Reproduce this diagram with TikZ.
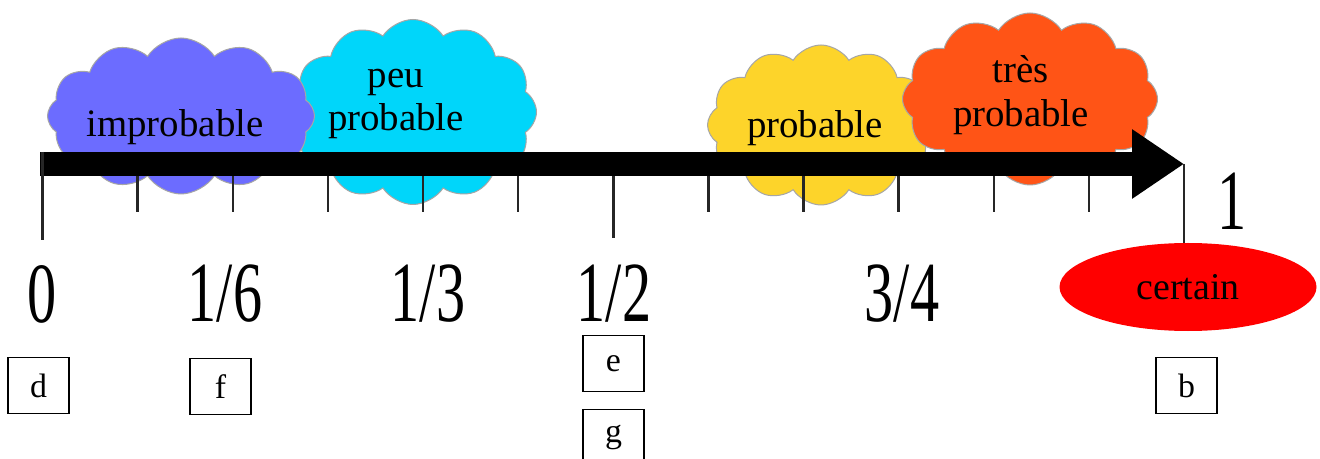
\documentclass[tikz,border=0pt]{standalone}
\usepackage{fontspec}
\setmainfont{Liberation Serif}
\usepackage{graphicx}
\usetikzlibrary{arrows.meta,shapes.symbols,shapes.geometric}

\definecolor{cloudpurple}{RGB}{108,108,255}
\definecolor{cloudcyan}{RGB}{0,214,250}
\definecolor{cloudyellow}{RGB}{253,212,42}
\definecolor{cloudorange}{RGB}{255,84,22}

\newcommand{\narrow}[1]{\scalebox{0.68}[1]{#1}}

\tikzset{
	cloudy/.style={cloud, cloud puffs=12, cloud puff arc=115, draw=gray!70, line width=1bp, inner sep=0pt},
	cloudtxt/.style={font=\fontsize{39}{44}\selectfont, align=center, inner sep=0pt},
	tickline/.style={line width=2.5bp, black!85},
	numlbl/.style={font=\fontsize{86}{86}\selectfont, inner sep=0pt},
	lettbox/.style={draw, line width=1.2bp, minimum width=61bp, minimum height=56bp, inner sep=0pt, font=\fontsize{34}{36}\selectfont},
}

\begin{document}
\begin{tikzpicture}[x=1bp,y=-1bp]
		\useasboundingbox[fill=white] (0,0) rectangle (1320,459);
		% clouds behind the axis
		\node[cloudy, fill=cloudcyan, minimum width=247bp, minimum height=185bp] (cpeu) at (413,112) {};
		\node[cloudy, fill=cloudpurple, minimum width=267bp, minimum height=156bp] (cimprob) at (181,116) {};
		\node[cloudy, fill=cloudyellow, minimum width=227bp, minimum height=160bp] (cprob) at (821,125) {};
		\node[cloudy, fill=cloudorange, minimum width=255bp, minimum height=172bp] (ctres) at (1030,99) {};
		\node[cloudtxt] (timprob) at (175,127) {improbable};
		\node[cloudtxt] (tpeu) at (396,104) {peu\\probable};
		\node[cloudtxt] (tprob) at (815,128) {probable};
		\node[cloudtxt] (ttres) at (1021,95) {très\\probable};
		% axis
		\coordinate (zero) at (40,164);
		\coordinate (one) at (1184,164);
		\draw[line width=24bp, -{Triangle[length=52bp,width=66bp]}] (zero) -- (one);
		\draw[tickline] (42.5,152) -- ++(0,88);
		\foreach \k in {1,...,11}{
			\pgfmathsetmacro{\len}{\k==6 ? 62 : 36}
			\draw[tickline] (42.5+95.125*\k,176) -- ++(0,\len);
			}
		\node[ellipse, fill=red, minimum width=257bp, minimum height=88bp, font=\fontsize{38}{40}\selectfont] (certain) at (1188,287) {certain};
		\draw[tickline] (one) -- (one |- certain.north);
		% values
		\node[numlbl] (n0) at (42,294) {\narrow{0}};
		\node[numlbl] (n16) at (225,294) {\narrow{1/6}};
		\node[numlbl] (n13) at (428,294) {\narrow{1/3}};
		\node[numlbl] (n12) at (614,294) {\narrow{1/2}};
		\node[numlbl] (n34) at (902,294) {\narrow{3/4}};
		\node[numlbl] (n1) at (1232,201) {\narrow{1}};
		% answer boxes
		\node[lettbox] (bd) at (38.5,385.5) {d};
		\node[lettbox] (bf) at (220.5,386.5) {f};
		\node[lettbox] (be) at (613.5,363.5) {e};
		\node[lettbox] (bg) at (613.5,437.5) {g};
		\node[lettbox] (bb) at (1186.5,385.5) {b};
\end{tikzpicture}
\end{document}
